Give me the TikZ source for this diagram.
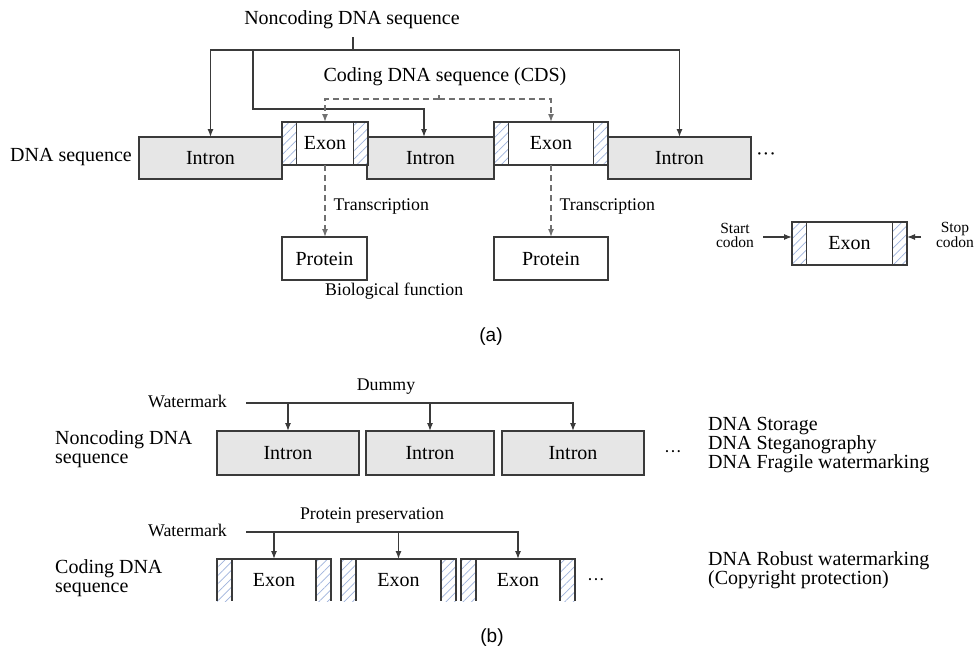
\documentclass[tikz,border=0pt]{standalone}
\usepackage{fontspec}
\setmainfont{Liberation Serif}
\newfontfamily\capfont{Liberation Sans}
\usepackage{tikz}
\usetikzlibrary{arrows.meta,patterns.meta,positioning}

\definecolor{linegray}{HTML}{3A3A3A}
\definecolor{dashgray}{HTML}{707070}
\definecolor{introngray}{HTML}{E6E6E6}
\definecolor{hatchblue}{HTML}{9FB3DC}

\tikzset{
	boxline/.style={draw=linegray, line width=1.5pt},
	intron/.style={boxline, fill=introngray, inner sep=0pt, outer sep=0pt, minimum height=42pt, font=\fontsize{20}{22}\selectfont},
	exonbox/.style={boxline, fill=white, inner sep=0pt, outer sep=0pt, minimum height=43pt, font=\fontsize{20}{22}\selectfont},
	exonopen/.style={fill=white, inner sep=0pt, outer sep=0pt, minimum height=42pt, font=\fontsize{20}{22}\selectfont},
	protein/.style={boxline, fill=white, inner sep=0pt, outer sep=0pt, minimum height=43pt, font=\fontsize{20}{22}\selectfont},
	hatchfill/.style={pattern={Lines[angle=45,distance=6pt,line width=0.7pt]}, pattern color=hatchblue},
	hatch/.style={boxline, hatchfill},
	conn/.style={draw=linegray, line width=1.2pt},
	arr/.style={conn, -{Latex[length=8pt,width=6pt]}},
	dashline/.style={draw=dashgray, line width=1.4pt, dash pattern=on 6pt off 4pt},
	dasharr/.style={dashline, -{Latex[length=8pt,width=6pt]}},
	bigtxt/.style={inner sep=0pt, font=\fontsize{20}{18}\selectfont},
	labeltxt/.style={inner sep=0pt, align=left, font=\fontsize{20}{19}\selectfont},
	smalltxt/.style={inner sep=0pt, font=\fontsize{17.8}{20}\selectfont},
	codontxt/.style={inner sep=0pt, align=center, font=\fontsize{15.5}{14}\selectfont},
	captxt/.style={inner sep=0pt, font=\capfont\fontsize{19}{22}\selectfont},
}

\begin{document}
\begin{tikzpicture}[x=1pt,y=-1pt]
	\useasboundingbox (0,0) rectangle (976,649);

	% (a) gene structure
	\node[bigtxt] (nctxt) at (352,20) {Noncoding DNA sequence};
	\node[bigtxt] (cdstxt) at (445,77) {Coding DNA sequence (CDS)};
	\node[bigtxt, anchor=west] (dnaseq) at (10,157) {DNA sequence};

	\node[intron, minimum width=143pt] (in1) at (210.5,158) {Intron};
	\node[intron, minimum width=127pt] (in2) at (430.5,158) {Intron};
	\node[intron, minimum width=143pt] (in3) at (679.5,158) {Intron};
	\node[bigtxt] (dots1) at (766,157) {···};

	\node[exonbox, minimum width=86pt] (ex1) at (325,143.5) {Exon};
	\node[exonbox, minimum width=114pt] (ex2) at (551,143.5) {Exon};
	\node[exonbox, minimum width=115pt] (legex) at (849.5,243.5) {Exon};
	\foreach \e in {ex1,ex2,legex}{
		\draw[hatch] (\e.north west) rectangle ++(14.5,43);
		\draw[hatch] (\e.north east) rectangle ++(-14.5,43);
	}

	\coordinate (ncbus) at (353,50);
	\coordinate (ncbendA) at (253,109);
	\coordinate (ncbendB) at (424,109);
	\draw[conn] (ncbus |- nctxt.south) ++(0,8) -- (ncbus);
	\draw[arr] (ncbus) -| (in1.north);
	\draw[arr] (ncbus) -| (in3.north);
	\draw[arr] (ncbus -| ncbendA) -- (ncbendA) -- (ncbendB) -- (ncbendB |- in2.north);

	\coordinate (cdsbus) at (439,99);
	\draw[dashline] (cdsbus) -- ++(0,-4);
	\draw[dasharr] (cdsbus) -| (ex1.north);
	\draw[dasharr] (cdsbus) -| (ex2.north);

	\node[protein, minimum width=85pt] (pr1) at (324.5,258.5) {Protein};
	\node[protein, minimum width=114pt] (pr2) at (551,258.5) {Protein};
	\draw[dasharr] (ex1.south) -- (ex1.south |- pr1.north) node[smalltxt, pos=.57, right=8pt] {Transcription};
	\draw[dasharr] (ex2.south) -- (pr2.north) node[smalltxt, pos=.57, right=8pt] {Transcription};
	\node[smalltxt, anchor=west] (biofn) at (325,291) {Biological function};

	\node[codontxt] (starttxt) at (735,235) {Start\\codon};
	\node[codontxt] (stoptxt) at (955,235) {Stop\\codon};
	\coordinate (startin) at (763,237);
	\coordinate (stopin) at (921,237);
	\draw[arr] (startin) -- (startin -| legex.west);
	\draw[arr] (stopin) -- (stopin -| legex.east);

	\node[captxt] (capa) at (491,337) {(a)};

	% (b) watermarking
	\node[smalltxt] (dummy) at (386,387) {Dummy};
	\node[smalltxt, anchor=west] (wm1) at (148,401) {Watermark};
	\node[labeltxt, anchor=west] (nclbl) at (55,449.5) {Noncoding DNA\\sequence};
	\node[intron, minimum width=142pt, minimum height=44pt] (ib1) at (288,453) {Intron};
	\node[intron, minimum width=128pt, minimum height=44pt] (ib2) at (430,453) {Intron};
	\node[intron, minimum width=142pt, minimum height=44pt] (ib3) at (573,453) {Intron};
	\node[smalltxt] (dots2) at (673,454) {···};
	\node[bigtxt, anchor=west, align=left] (uses1) at (708,445) {DNA Storage\\DNA Steganography\\DNA Fragile watermarking};

	\coordinate (wmbus1) at (246,403);
	\draw[arr] (wmbus1) -| (ib3.north);
	\draw[arr] (wmbus1 -| ib1.north) -- (ib1.north);
	\draw[arr] (wmbus1 -| ib2.north) -- (ib2.north);

	\node[smalltxt] (protpres) at (372,515) {Protein preservation};
	\node[smalltxt, anchor=west] (wm2) at (148,530) {Watermark};
	\node[labeltxt, anchor=west] (clbl) at (55,578) {Coding DNA\\sequence};
	\foreach \n/\x/\w in {eb1/274/114, eb2/398.5/115, eb3/518/114}{
		\node[exonopen, minimum width=\w pt] (\n) at (\x,580) {Exon};
		\fill[hatchfill] (\n.north west) rectangle ++(15,42);
		\fill[hatchfill] (\n.north east) rectangle ++(-15,42);
		\draw[boxline] (\n.south west) -- (\n.north west) -- (\n.north east) -- (\n.south east);
		\draw[boxline] (\n.north west) ++(15,0) -- ++(0,42);
		\draw[boxline] (\n.north east) ++(-15,0) -- ++(0,42);
	}
	\node[smalltxt] (dots3) at (596,582) {···};
	\node[bigtxt, anchor=west, align=left] (uses2) at (708,570) {DNA Robust watermarking\\(Copyright protection)};

	\coordinate (wmbus2) at (246,532);
	\draw[arr] (wmbus2) -| (eb3.north);
	\draw[arr] (wmbus2 -| eb1.north) -- (eb1.north);
	\draw[arr] (wmbus2 -| eb2.north) -- (eb2.north);

	\node[captxt] (capb) at (492,638) {(b)};
\end{tikzpicture}
\end{document}
